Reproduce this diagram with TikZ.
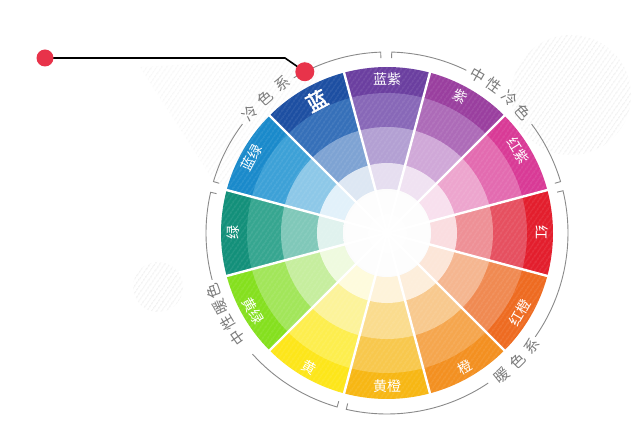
\documentclass[tikz,border=0pt]{standalone}
\usepackage{fontspec}
\newfontfamily\cjk{Noto Sans CJK SC}
\newfontfamily\cjkbold{Noto Sans CJK SC}[FakeBold=2.5]
\usetikzlibrary{patterns.meta}
\definecolor{dotred}{HTML}{E8334A}
\definecolor{brk}{HTML}{8A8A8A}
\definecolor{hatch}{HTML}{ECECEC}
% outer, band2, band3, inner
\definecolor{lzA}{HTML}{6B3FA0}\definecolor{lzB}{HTML}{8868B8}\definecolor{lzC}{HTML}{B3A0D3}\definecolor{lzD}{HTML}{E6DEF0}
\definecolor{ziA}{HTML}{9A3F9F}\definecolor{ziB}{HTML}{AD6BB8}\definecolor{ziC}{HTML}{D0A8D8}\definecolor{ziD}{HTML}{F0E2F2}
\definecolor{hzA}{HTML}{D93A96}\definecolor{hzB}{HTML}{E36BB0}\definecolor{hzC}{HTML}{EDA5CE}\definecolor{hzD}{HTML}{F8E0EE}
\definecolor{hoA}{HTML}{E31E2D}\definecolor{hoB}{HTML}{E65060}\definecolor{hoC}{HTML}{EE9096}\definecolor{hoD}{HTML}{FADDE0}
\definecolor{hcA}{HTML}{EE6B21}\definecolor{hcB}{HTML}{F08A52}\definecolor{hcC}{HTML}{F5B690}\definecolor{hcD}{HTML}{FCE6D8}
\definecolor{chA}{HTML}{F39021}\definecolor{chB}{HTML}{F5A64E}\definecolor{chC}{HTML}{F8C98E}\definecolor{chD}{HTML}{FDEEDB}
\definecolor{hgA}{HTML}{F7B714}\definecolor{hgB}{HTML}{F8C84D}\definecolor{hgC}{HTML}{FADC8E}\definecolor{hgD}{HTML}{FEF3DA}
\definecolor{huA}{HTML}{FDE61A}\definecolor{huB}{HTML}{FDEE4E}\definecolor{huC}{HTML}{FCF39A}\definecolor{huD}{HTML}{FEFBDD}
\definecolor{hlA}{HTML}{85E01E}\definecolor{hlB}{HTML}{A2E65A}\definecolor{hlC}{HTML}{C6EE9E}\definecolor{hlD}{HTML}{EFFADF}
\definecolor{lvA}{HTML}{13907A}\definecolor{lvB}{HTML}{36A690}\definecolor{lvC}{HTML}{80C8B9}\definecolor{lvD}{HTML}{E0F2EE}
\definecolor{llA}{HTML}{1A8ACB}\definecolor{llB}{HTML}{3DA1D7}\definecolor{llC}{HTML}{8DC8E8}\definecolor{llD}{HTML}{E2F1FA}
\definecolor{lnA}{HTML}{1D4FA2}\definecolor{lnB}{HTML}{3670B9}\definecolor{lnC}{HTML}{7EA3D3}\definecolor{lnD}{HTML}{DDE7F3}
\begin{document}
\begin{tikzpicture}[x=1pt,y=1pt,
  seglabel/.style={text=white,font=\cjk\fontsize{14}{14}\selectfont,inner sep=0pt},
  biglabel/.style={text=white,font=\cjkbold\fontsize{21}{21}\selectfont,inner sep=0pt},
  grouplabel/.style={text=brk!90!black,font=\cjk\fontsize{15}{15}\selectfont,inner sep=0pt},
  bracket/.style={draw=brk,line width=0.9pt},
  reddot/.style={circle,fill=dotred,draw=none,inner sep=0pt,minimum size=#1},
  hatchfill/.style={pattern={Lines[angle=55,distance=4pt,line width=1pt]},pattern color=hatch}]
\useasboundingbox (0,0) rectangle (640,423);
\fill[white] (0,0) rectangle (640,423);
\coordinate (O) at (387,190);
% background hatched shapes
\fill[hatchfill] (571,328) circle (60);
\fill[hatchfill] (158,136) circle (25);
\fill[hatchfill,opacity=0.6] (140,356) -- (250,362) -- (320,362) -- (300,230) -- (215,240) -- cycle;
% wheel
\foreach \a/\c in {90/lz,60/zi,30/hz,0/ho,-30/hc,-60/ch,-90/hg,-120/hu,-150/hl,180/lv,150/ll,120/ln}{
  \fill[\c A] (O) -- ++(\a-15:166) arc[start angle=\a-15,end angle=\a+15,radius=166] -- cycle;
  \fill[\c B] (O) -- ++(\a-15:140) arc[start angle=\a-15,end angle=\a+15,radius=140] -- cycle;
  \fill[\c C] (O) -- ++(\a-15:106) arc[start angle=\a-15,end angle=\a+15,radius=106] -- cycle;
  \fill[\c D] (O) -- ++(\a-15:70) arc[start angle=\a-15,end angle=\a+15,radius=70] -- cycle;
}
\shade[inner color=white,outer color=white!85!gray!30] (O) circle (44);
\fill[white,opacity=0.6] (O) circle (44);
\fill[pattern={Lines[angle=55,distance=4pt,line width=0.8pt]},pattern color=white,opacity=0.22] (O) circle (166);
\foreach \b in {15,45,...,345}{\draw[white,line width=2.4pt] (O) -- ++(\b:167);}
% segment labels
\node[seglabel,rotate=0]   (t-lanzi)   at ([shift={(90:154)}]O)   {蓝紫};
\node[seglabel,rotate=-30] (t-zi)      at ([shift={(62:155)}]O)   {紫};
\node[seglabel,rotate=-58] (t-hongzi)  at ([shift={(32:155)}]O)   {红紫};
\node[seglabel,rotate=-90] (t-hong)    at ([shift={(0:155)}]O)    {红};
\node[seglabel,rotate=60]  (t-hongcheng) at ([shift={(-31:155)}]O) {红橙};
\node[seglabel,rotate=30]  (t-cheng)   at ([shift={(-60:155)}]O)  {橙};
\node[seglabel,rotate=0]   (t-huangcheng) at ([shift={(-90:153)}]O) {黄橙};
\node[seglabel,rotate=-30] (t-huang)   at ([shift={(-120:155)}]O) {黄};
\node[seglabel,rotate=-60] (t-huanglv) at ([shift={(-150:155)}]O) {黄绿};
\node[seglabel,rotate=90]  (t-lv)      at ([shift={(180:154)}]O)  {绿};
\node[seglabel,rotate=62]  (t-lanlv)   at ([shift={(151:155)}]O)  {蓝绿};
\node[biglabel,rotate=28]  (t-lan)     at ([shift={(118:150)}]O)  {蓝};
% brackets
\draw[bracket] ([shift={(92:175)}]O) -- ([shift={(92:181)}]O) arc[start angle=92,end angle=121,radius=181];
\draw[bracket] ([shift={(143:181)}]O) arc[start angle=143,end angle=163.5,radius=181] -- ([shift={(163.5:175)}]O);
\draw[bracket] ([shift={(16.5:175)}]O) -- ([shift={(16.5:181)}]O) arc[start angle=16.5,end angle=37,radius=181];
\draw[bracket] ([shift={(64:181)}]O) arc[start angle=64,end angle=88.5,radius=181] -- ([shift={(88.5:175)}]O);
\draw[bracket] ([shift={(-103:175)}]O) -- ([shift={(-103:181)}]O) arc[start angle=-103,end angle=-56,radius=181];
\draw[bracket] ([shift={(-35:181)}]O) arc[start angle=-35,end angle=13.5,radius=181] -- ([shift={(13.5:175)}]O);
\draw[bracket] ([shift={(167:175)}]O) -- ([shift={(167:181)}]O) arc[start angle=167,end angle=195,radius=181];
\draw[bracket] ([shift={(222:181)}]O) arc[start angle=222,end angle=254,radius=181] -- ([shift={(254:175)}]O);
% group labels
\node[grouplabel,rotate=49] (g-leng-1) at ([shift={(139:182)}]O) {冷};
\node[grouplabel,rotate=42] (g-leng-2) at ([shift={(132:182)}]O) {色};
\node[grouplabel,rotate=35] (g-leng-3) at ([shift={(125:182)}]O) {系};
\node[grouplabel,rotate=-30] (g-zl-1) at ([shift={(60:182)}]O) {中};
\node[grouplabel,rotate=-36] (g-zl-2) at ([shift={(54:182)}]O) {性};
\node[grouplabel,rotate=-42.5] (g-zl-3) at ([shift={(47.5:182)}]O) {冷};
\node[grouplabel,rotate=-48.5] (g-zl-4) at ([shift={(41.5:182)}]O) {色};
\node[grouplabel,rotate=39] (g-nuan-1) at ([shift={(-51:183)}]O) {暖};
\node[grouplabel,rotate=45] (g-nuan-2) at ([shift={(-44.5:183)}]O) {色};
\node[grouplabel,rotate=51.5] (g-nuan-3) at ([shift={(-38:183)}]O) {系};
\node[grouplabel,rotate=125] (g-zn-1) at ([shift={(215:183)}]O) {中};
\node[grouplabel,rotate=120] (g-zn-2) at ([shift={(209.5:183)}]O) {性};
\node[grouplabel,rotate=114.5] (g-zn-3) at ([shift={(204:183)}]O) {暖};
\node[grouplabel,rotate=109] (g-zn-4) at ([shift={(198.5:183)}]O) {色};
% pointer line with red dots
\coordinate (p-start) at (45,365);
\coordinate (p-bend) at (285,365);
\coordinate (p-end) at ([shift={(117:181)}]O);
\draw[black,line width=1.6pt] (p-start) -- (p-bend) -- (p-end);
\node[reddot=17pt] (dot-left) at (p-start) {};
\node[reddot=19pt] (dot-right) at (p-end) {};
\end{tikzpicture}
\end{document}
